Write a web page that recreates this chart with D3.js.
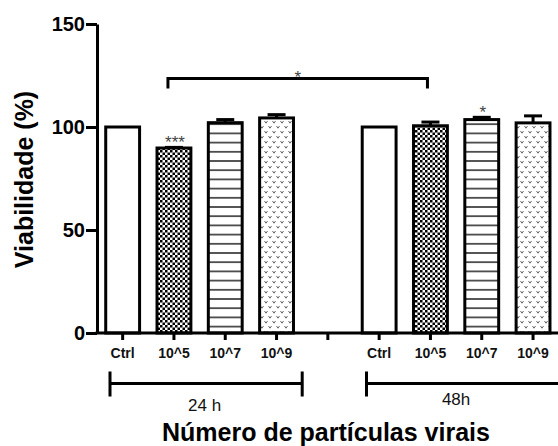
<!DOCTYPE html>
<html>
<head>
<meta charset="utf-8">
<script src="https://cdnjs.cloudflare.com/ajax/libs/d3/7.8.5/d3.min.js"></script>
<style>
  body { margin: 0; background: white; }
  text { font-family: "Liberation Sans", Arial, sans-serif; }
</style>
</head>
<body>
<div id="chart"></div>
<script>
//Data
var categories = ["Ctrl", "10^5", "10^7", "10^9", "", "Ctrl", "10^5", "10^7", "10^9"];
var means24 = [100, 89.8, 102.1, 104.4];
var sem24   = [0, 0.3, 1.5, 1.6];
var means48 = [100, 100.6, 103.6, 102.0];
var sem48   = [0, 1.8, 1.1, 3.4];
var fills   = ["white", "url(#checker)", "url(#hlines)", "url(#vdots)"];
var yTicks  = [0, 50, 100, 150];
var groupNames = ["24 h", "48h"];
var groupStart = [0, 5];
var groupEnd   = [3, 8];
var stars = [{cat: 1, text: "***"}, {cat: 7, text: "*"}];
var bracket = {from: 1, to: 6, value: 123.5, star: "*"};

//Variables
var width = 558, height = 446;
var margin = {left: 97, right: 0, top: 24, bottom: 113};
var axis_size = 3;
var bar_stroke = 3;

//Build rows from the arrays
var rows = [];
means24.forEach(function(m, i) { rows.push({idx: i, mean: m, sem: sem24[i], fill: fills[i]}); });
means48.forEach(function(m, i) { rows.push({idx: i + 5, mean: m, sem: sem48[i], fill: fills[i]}); });

var svg = d3.select("#chart").append("svg")
  .attr("width", width)
  .attr("height", height);

//Patterns for the bars
var defs = svg.append("defs");

var checker = defs.append("pattern")
  .attr("id", "checker").attr("patternUnits", "userSpaceOnUse")
  .attr("width", 5).attr("height", 5);
checker.append("rect").attr("width", 5).attr("height", 5).attr("fill", "white");
checker.append("rect").attr("width", 2.5).attr("height", 2.5).attr("fill", "black");
checker.append("rect").attr("x", 2.5).attr("y", 2.5).attr("width", 2.5).attr("height", 2.5).attr("fill", "black");

var hlines = defs.append("pattern")
  .attr("id", "hlines").attr("patternUnits", "userSpaceOnUse")
  .attr("width", 10).attr("height", 9.2);
hlines.append("rect").attr("width", 10).attr("height", 9.2).attr("fill", "white");
hlines.append("line").attr("x1", 0).attr("x2", 10).attr("y1", 4.6).attr("y2", 4.6)
  .attr("stroke", "#333").attr("stroke-width", 1.6);

var vdots = defs.append("pattern")
  .attr("id", "vdots").attr("patternUnits", "userSpaceOnUse")
  .attr("width", 8).attr("height", 10);
vdots.append("rect").attr("width", 8).attr("height", 10).attr("fill", "white");
vdots.append("path").attr("d", "M0.5,1L2,3.2L3.5,1M4.5,6L6,8.2L7.5,6")
  .attr("fill", "none").attr("stroke", "#555").attr("stroke-width", 0.9);

//Scales
var x = d3.scaleBand()
  .domain(d3.range(categories.length))
  .range([margin.left, width - margin.right + 0.7])
  .padding(0);

var y = d3.scaleLinear()
  .domain([0, 150])
  .range([height - margin.bottom, margin.top]);

var bw = x.bandwidth() * 0.66;
function cx(i) { return x(i) + x.bandwidth() / 2; }

//Bars
svg.append("g")
  .selectAll("rect")
  .data(rows)
  .enter().append("rect")
  .attr("x", function(d) { return cx(d.idx) - bw / 2; })
  .attr("y", function(d) { return y(d.mean); })
  .attr("width", bw)
  .attr("height", function(d) { return y(0) - y(d.mean); })
  .attr("fill", function(d) { return d.fill; })
  .attr("stroke", "black")
  .attr("stroke-width", bar_stroke);

//Error bars (upper only)
var err = svg.append("g").attr("stroke", "black").attr("stroke-width", 3);
rows.filter(function(d) { return d.sem > 0; }).forEach(function(d) {
  err.append("line")
    .attr("x1", cx(d.idx)).attr("x2", cx(d.idx))
    .attr("y1", y(d.mean)).attr("y2", y(d.mean + d.sem));
  err.append("line")
    .attr("x1", cx(d.idx) - 9).attr("x2", cx(d.idx) + 9)
    .attr("y1", y(d.mean + d.sem)).attr("y2", y(d.mean + d.sem));
});

//Stars above bars
stars.forEach(function(s) {
  var r = rows.filter(function(d) { return d.idx == s.cat; })[0];
  svg.append("text")
    .attr("x", cx(s.cat) + 1)
    .attr("y", y(r.mean + r.sem) + 1)
    .attr("text-anchor", "middle")
    .style("font-size", "17px")
    .style("fill", "#444")
    .text(s.text);
});

//Significance bracket
var bx1 = cx(bracket.from) - 6, bx2 = cx(bracket.to) - 3, by = y(bracket.value);
svg.append("path")
  .attr("d", "M" + bx1 + "," + (by + 10) + "V" + by + "H" + bx2 + "V" + (by + 10))
  .attr("fill", "none")
  .attr("stroke", "black")
  .attr("stroke-width", 3);
svg.append("text")
  .attr("x", (bx1 + bx2) / 2)
  .attr("y", by + 4)
  .attr("text-anchor", "middle")
  .style("font-size", "17px")
  .style("fill", "#444")
  .text(bracket.star);

//Axes
var xAxis = svg.append("g")
  .attr("transform", "translate(0," + y(0) + ")")
  .call(d3.axisBottom(x).tickSize(7).tickSizeOuter(0).tickPadding(8)
    .tickFormat(function(i) { return categories[i]; }));

var yAxis = svg.append("g")
  .attr("transform", "translate(" + margin.left + ",0)")
  .call(d3.axisLeft(y).tickValues(yTicks).tickSize(11).tickSizeOuter(0).tickPadding(1));

xAxis.selectAll("path, line").attr("stroke-width", axis_size);
yAxis.selectAll("path, line").attr("stroke-width", axis_size);
xAxis.select(".domain").attr("d", "M" + (margin.left - 1.5) + ",0H" + (width + 2));
xAxis.selectAll("text").style("font-size", "14px").style("font-weight", "bold")
  .style("font-family", "'Liberation Sans', Arial, sans-serif").attr("fill", "#111");
yAxis.selectAll("text").style("font-size", "20px").style("font-weight", "bold")
  .style("font-family", "'Liberation Sans', Arial, sans-serif").attr("fill", "black");

//Group brackets below the axis
var labelOffset = [5, 0];
var labelDy = [410.5, 404.5];
var gy = 383.5;
groupNames.forEach(function(name, g) {
  var gx1 = x(groupStart[g]) + 13;
  var gx2 = x(groupEnd[g]) + x.bandwidth() + (g == 0 ? 0 : 15);
  svg.append("path")
    .attr("d", "M" + gx1 + "," + (gy - 12) + "V" + (gy + 13) +
      "M" + gx1 + "," + gy + "H" + gx2 +
      "M" + gx2 + "," + (gy - 12) + "V" + (gy + 13))
    .attr("fill", "none")
    .attr("stroke", "black")
    .attr("stroke-width", 3);
  svg.append("text")
    .attr("x", (x(groupStart[g]) + x(groupEnd[g]) + x.bandwidth()) / 2 + labelOffset[g])
    .attr("y", labelDy[g])
    .attr("text-anchor", "middle")
    .style("font-size", "17px")
    .style("fill", "#111")
    .text(name);
});

//Axis titles
svg.append("text")
  .attr("x", 326)
  .attr("y", 441)
  .attr("text-anchor", "middle")
  .style("font-size", "25px")
  .style("font-weight", "bold")
  .text("Número de partículas virais");

svg.append("text")
  .attr("transform", "translate(33," + (y(75) + 1) + ") rotate(-90)")
  .attr("text-anchor", "middle")
  .style("font-size", "25px")
  .style("font-weight", "bold")
  .text("Viabilidade (%)");
</script>
</body>
</html>
